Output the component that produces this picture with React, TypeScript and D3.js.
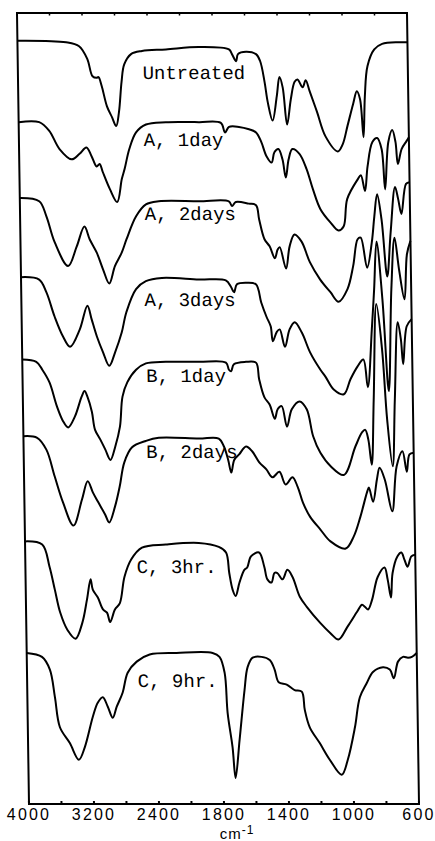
import React, { useEffect, useRef } from 'react';
import * as d3 from 'd3';

type Pt = [number, number];

// wavenumber (cm-1), offset transmittance (a.u., 0 = bottom of frame, 100 = top)
const untreated: Pt[] = [
  [4000, 96.5], [3401, 96.3], [3242, 95.8], [3144, 94.2], [3082, 92.0], [3033, 91.8], [3009, 91.9],
  [2972, 90.8], [2910, 88.2], [2849, 86.8], [2800, 85.7], [2763, 87.5], [2726, 91.3], [2690, 93.5],
  [2604, 94.8], [2469, 95.2], [2174, 95.4], [1884, 95.7], [1699, 95.4], [1681, 94.8], [1656, 93.9],
  [1644, 94.8], [1594, 95.1], [1533, 94.8], [1508, 93.9], [1483, 91.3], [1465, 88.7], [1437, 86.4],
  [1409, 89.5], [1391, 91.9], [1372, 90.6], [1348, 85.9], [1323, 89.1], [1298, 91.3], [1280, 91.6],
  [1249, 90.6], [1230, 91.5], [1206, 90.1], [1163, 87.5], [1113, 84.4], [1039, 82.5], [1008, 83.4],
  [977, 85.7], [940, 88.5], [916, 90.1], [897, 89.1], [879, 84.3], [867, 89.5], [848, 93.3],
  [805, 95.4], [756, 96.1], [651, 96.3], [600, 96.3],
];

const a1day: Pt[] = [
  [4000, 86.2], [3747, 86.2], [3625, 85.1], [3502, 82.8], [3355, 81.5], [3256, 82.2], [3171, 83.0],
  [3109, 81.9], [3048, 80.6], [3011, 80.9], [2974, 79.9], [2888, 77.7], [2802, 76.1], [2741, 79.0],
  [2704, 80.3], [2643, 82.8], [2557, 84.9], [2434, 85.9], [2189, 86.2], [1891, 86.2], [1756, 86.1],
  [1731, 84.9], [1706, 85.6], [1645, 85.6], [1583, 85.3], [1540, 84.9], [1509, 83.7], [1478, 81.9],
  [1447, 81.1], [1429, 82.4], [1404, 82.8], [1380, 81.5], [1361, 79.2], [1342, 81.5], [1318, 82.8],
  [1275, 82.2], [1233, 80.3], [1195, 77.7], [1151, 75.2], [1090, 73.5], [1042, 72.5], [1010, 73.0],
  [985, 76.5], [918, 79.0], [899, 79.5], [875, 77.5], [857, 80.6], [825, 83.7], [795, 84.2],
  [769, 82.8], [751, 77.7], [727, 83.7], [702, 85.2], [683, 83.7], [670, 80.9], [646, 82.8],
  [615, 83.8], [600, 84.3],
];

const a2days: Pt[] = [
  [4000, 76.6], [3762, 76.2], [3676, 74.3], [3578, 71.0], [3418, 68.0], [3308, 70.5], [3210, 73.0],
  [3148, 71.4], [3063, 69.7], [2989, 67.6], [2915, 65.8], [2842, 68.0], [2756, 69.7], [2694, 71.4],
  [2572, 74.3], [2449, 75.8], [2290, 76.2], [1899, 76.2], [1714, 76.2], [1695, 75.6], [1671, 76.1],
  [1591, 75.9], [1547, 75.7], [1529, 73.9], [1498, 71.4], [1467, 70.5], [1436, 69.0], [1418, 70.1],
  [1405, 70.4], [1368, 67.7], [1344, 70.5], [1313, 72.0], [1270, 71.1], [1221, 68.5], [1159, 66.3],
  [1097, 64.7], [1048, 63.5], [992, 65.1], [955, 68.0], [925, 71.4], [906, 71.6], [869, 67.8],
  [838, 71.0], [820, 74.3], [801, 77.1], [776, 73.9], [746, 66.7], [721, 72.3], [690, 78.0],
  [672, 76.5], [653, 74.6], [622, 78.4], [600, 78.6],
];

const a3days: Pt[] = [
  [4000, 66.6], [3777, 66.3], [3691, 64.7], [3593, 61.6], [3494, 59.1], [3409, 57.8], [3286, 60.0],
  [3188, 63.0], [3139, 61.3], [3077, 59.1], [3004, 57.1], [2930, 55.4], [2856, 57.1], [2771, 59.6],
  [2709, 62.2], [2586, 65.1], [2464, 66.1], [2267, 66.5], [1906, 66.3], [1740, 66.2], [1709, 65.4],
  [1690, 64.7], [1672, 65.7], [1616, 65.9], [1555, 65.7], [1524, 63.4], [1493, 61.6], [1468, 60.4],
  [1456, 58.5], [1431, 59.7], [1413, 60.0], [1382, 57.8], [1352, 60.0], [1320, 60.9], [1277, 59.6],
  [1228, 57.1], [1166, 54.9], [1135, 54.0], [1086, 52.4], [1024, 51.8], [982, 53.7], [938, 55.3],
  [901, 56.2], [876, 52.7], [846, 60.0], [828, 65.1], [809, 71.1], [778, 63.8], [747, 52.2],
  [722, 65.1], [698, 71.6], [673, 67.6], [642, 63.8], [623, 69.5], [600, 71.2],
];

const b1day: Pt[] = [
  [4000, 56.2], [3828, 55.9], [3755, 54.9], [3669, 53.3], [3583, 50.3], [3509, 48.4], [3448, 47.6],
  [3362, 49.0], [3276, 51.5], [3239, 52.2], [3202, 51.4], [3153, 49.6], [3117, 47.3], [3055, 46.1],
  [2994, 44.8], [2933, 43.5], [2871, 45.2], [2810, 47.7], [2773, 51.5], [2712, 53.3], [2601, 54.9],
  [2479, 55.7], [2233, 55.9], [1914, 55.9], [1747, 55.8], [1729, 54.9], [1716, 54.7], [1698, 55.6],
  [1624, 55.9], [1562, 55.8], [1544, 53.7], [1513, 51.4], [1482, 50.5], [1451, 48.7], [1433, 49.9],
  [1408, 50.3], [1377, 47.7], [1346, 49.9], [1297, 50.9], [1254, 49.9], [1217, 46.5], [1174, 44.4],
  [1112, 42.7], [1032, 41.6], [958, 45.2], [915, 47.0], [896, 47.3], [878, 46.1], [859, 42.9],
  [841, 51.1], [816, 63.2], [785, 57.5], [760, 48.6], [730, 42.7], [711, 51.1], [686, 60.9],
  [668, 58.7], [656, 55.6], [631, 60.4], [600, 61.3],
];

const b2days: Pt[] = [
  [4000, 46.5], [3831, 46.3], [3720, 44.8], [3622, 41.4], [3524, 38.1], [3401, 35.2], [3291, 38.5],
  [3217, 40.8], [3156, 39.4], [3094, 38.2], [3009, 36.6], [2960, 35.6], [2886, 37.6], [2825, 40.1],
  [2763, 43.2], [2665, 45.1], [2493, 45.9], [2334, 46.3], [1921, 46.2], [1798, 46.2], [1767, 45.2],
  [1742, 43.5], [1724, 41.9], [1705, 43.5], [1674, 44.2], [1631, 45.2], [1594, 44.6], [1551, 43.2],
  [1508, 42.3], [1471, 41.3], [1428, 42.0], [1391, 40.4], [1348, 41.3], [1317, 40.1], [1286, 38.1],
  [1243, 36.3], [1181, 34.7], [1120, 33.2], [1027, 32.3], [977, 33.8], [934, 36.3], [891, 39.4],
  [879, 40.0], [854, 38.2], [829, 41.0], [811, 42.5], [780, 41.0], [737, 37.0], [706, 42.7],
  [669, 44.6], [644, 42.0], [626, 44.2], [600, 44.4],
];

const c3hr: Pt[] = [
  [4000, 33.2], [3789, 32.8], [3703, 30.0], [3642, 27.1], [3580, 24.2], [3494, 22.0], [3396, 20.9],
  [3310, 22.9], [3249, 25.8], [3200, 28.4], [3175, 27.1], [3114, 26.1], [3053, 24.6], [3004, 24.2],
  [2967, 23.0], [2906, 24.6], [2844, 25.4], [2783, 28.7], [2697, 30.9], [2562, 32.4], [2267, 32.8],
  [1931, 33.0], [1808, 32.5], [1764, 31.8], [1746, 29.2], [1727, 27.1], [1709, 26.3], [1684, 28.0],
  [1653, 29.6], [1635, 29.9], [1611, 31.3], [1561, 31.8], [1530, 30.0], [1512, 28.4], [1487, 28.0],
  [1468, 29.2], [1450, 29.2], [1419, 28.4], [1388, 29.6], [1357, 28.7], [1314, 26.2], [1271, 24.9],
  [1191, 22.9], [1129, 21.6], [1080, 20.8], [1024, 22.4], [963, 24.3], [932, 25.2], [913, 24.9],
  [895, 24.6], [870, 25.8], [833, 28.7], [790, 29.9], [772, 28.4], [753, 26.1], [741, 29.2],
  [710, 31.3], [685, 31.8], [667, 30.9], [648, 30.0], [624, 31.3], [600, 31.5],
];

const c9hr: Pt[] = [
  [4000, 19.1], [3813, 18.6], [3718, 17.0], [3661, 13.5], [3605, 9.7], [3486, 7.7], [3378, 5.6],
  [3302, 7.2], [3199, 11.0], [3135, 12.8], [3072, 13.5], [3012, 12.3], [2953, 10.9], [2902, 12.3],
  [2826, 14.1], [2761, 16.6], [2648, 18.0], [2487, 18.9], [2156, 19.1], [1856, 19.1], [1814, 18.6],
  [1784, 16.6], [1769, 11.5], [1742, 7.2], [1726, 3.3], [1698, 8.1], [1663, 14.4], [1642, 17.3],
  [1610, 18.5], [1555, 18.6], [1505, 18.2], [1476, 17.0], [1452, 15.4], [1403, 15.1], [1355, 14.4],
  [1311, 14.2], [1294, 11.9], [1265, 9.7], [1205, 7.7], [1145, 5.6], [1073, 3.7], [1034, 5.6],
  [987, 9.7], [954, 13.5], [910, 15.3], [871, 16.7], [809, 17.3], [767, 17.0], [743, 15.9],
  [716, 18.0], [685, 18.6], [654, 18.5], [630, 18.6], [600, 19.1],
];

const spectra = [untreated, a1day, a2days, a3days, b1day, b2days, c3hr, c9hr];

// label text, anchor wavenumber, anchor value (baseline)
const labelNames = ['Untreated', 'A, 1day', 'A, 2days', 'A, 3days', 'B, 1day', 'B, 2days', 'C, 3hr.', 'C, 9hr.'];
const labelWn = [2466, 2466, 2466, 2485, 2478, 2491, 2631, 2638];
const labelVal = [91.6, 83.2, 73.8, 63.0, 53.3, 43.7, 29.2, 14.8];

const tickValues = [4000, 3600, 3200, 2800, 2400, 2000, 1800, 1600, 1400, 1200, 1000, 800, 600];
const tickLabels = [4000, 3200, 2400, 1800, 1400, 1000, 600];

export default function App() {
  const ref = useRef<SVGSVGElement>(null);

  useEffect(() => {
    const left = 29, right = 419, top = 13, bottom = 804;
    const svg = d3.select(ref.current);
    svg.selectAll('*').remove();

    // IR chart paper: scale doubles below 2000 cm-1
    const x = d3.scaleLinear()
      .domain([4000, 2000, 600])
      .range([left, left + (right - left) * 5 / 12, right]);
    const y = d3.scaleLinear().domain([0, 100]).range([bottom, top]);

    // the scan is slightly sheared
    const g = svg.append('g')
      .attr('transform', `translate(${left},${bottom}) skewX(0.87) translate(${-left},${-bottom})`);

    g.append('rect')
      .attr('x', left).attr('y', top)
      .attr('width', right - left).attr('height', bottom - top)
      .attr('fill', 'none').attr('stroke', '#000').attr('stroke-width', 2);

    g.selectAll('line.tb').data(tickValues).enter().append('line')
      .attr('x1', d => x(d)).attr('x2', d => x(d))
      .attr('y1', bottom).attr('y2', bottom - 3)
      .attr('stroke', '#000').attr('stroke-width', 2);

    g.selectAll('line.tt').data(tickValues).enter().append('line')
      .attr('x1', d => x(d)).attr('x2', d => x(d))
      .attr('y1', top).attr('y2', top + 2.5)
      .attr('stroke', '#000').attr('stroke-width', 1.5);

    const line = d3.line<Pt>()
      .x(d => x(d[0]))
      .y(d => y(d[1]))
      .curve(d3.curveCatmullRom.alpha(0.5));

    g.selectAll('path.spec').data(spectra).enter().append('path')
      .attr('d', d => line(d))
      .attr('fill', 'none')
      .attr('stroke', '#000')
      .attr('stroke-width', 2)
      .attr('stroke-linejoin', 'round');

    g.selectAll('text.lab').data(labelNames).enter().append('text')
      .attr('x', (d, i) => x(labelWn[i]))
      .attr('y', (d, i) => y(labelVal[i]))
      .attr('font-family', '"Liberation Mono", "Courier New", monospace')
      .attr('font-size', 19)
      .attr('fill', '#000')
      .text(d => d);

    svg.selectAll('text.tick').data(tickLabels).enter().append('text')
      .attr('x', d => x(d))
      .attr('y', 820)
      .attr('text-anchor', 'middle')
      .attr('font-family', '"Liberation Sans", Arial, sans-serif')
      .attr('font-size', 16)
      .attr('letter-spacing', 2.2)
      .attr('fill', '#000')
      .text(d => d);

    const unit = svg.append('text')
      .attr('x', 237).attr('y', 839)
      .attr('text-anchor', 'middle')
      .attr('font-family', '"Liberation Sans", Arial, sans-serif')
      .attr('font-size', 15)
      .attr('letter-spacing', 1)
      .attr('fill', '#000');
    unit.append('tspan').text('cm');
    unit.append('tspan').attr('dy', -5).attr('font-size', 12).text('-1');
  }, []);

  return (
    <svg
      ref={ref}
      width={435}
      height={841}
      style={{ position: 'absolute', left: 0, top: 0, background: '#fff' }}
    />
  );
}
